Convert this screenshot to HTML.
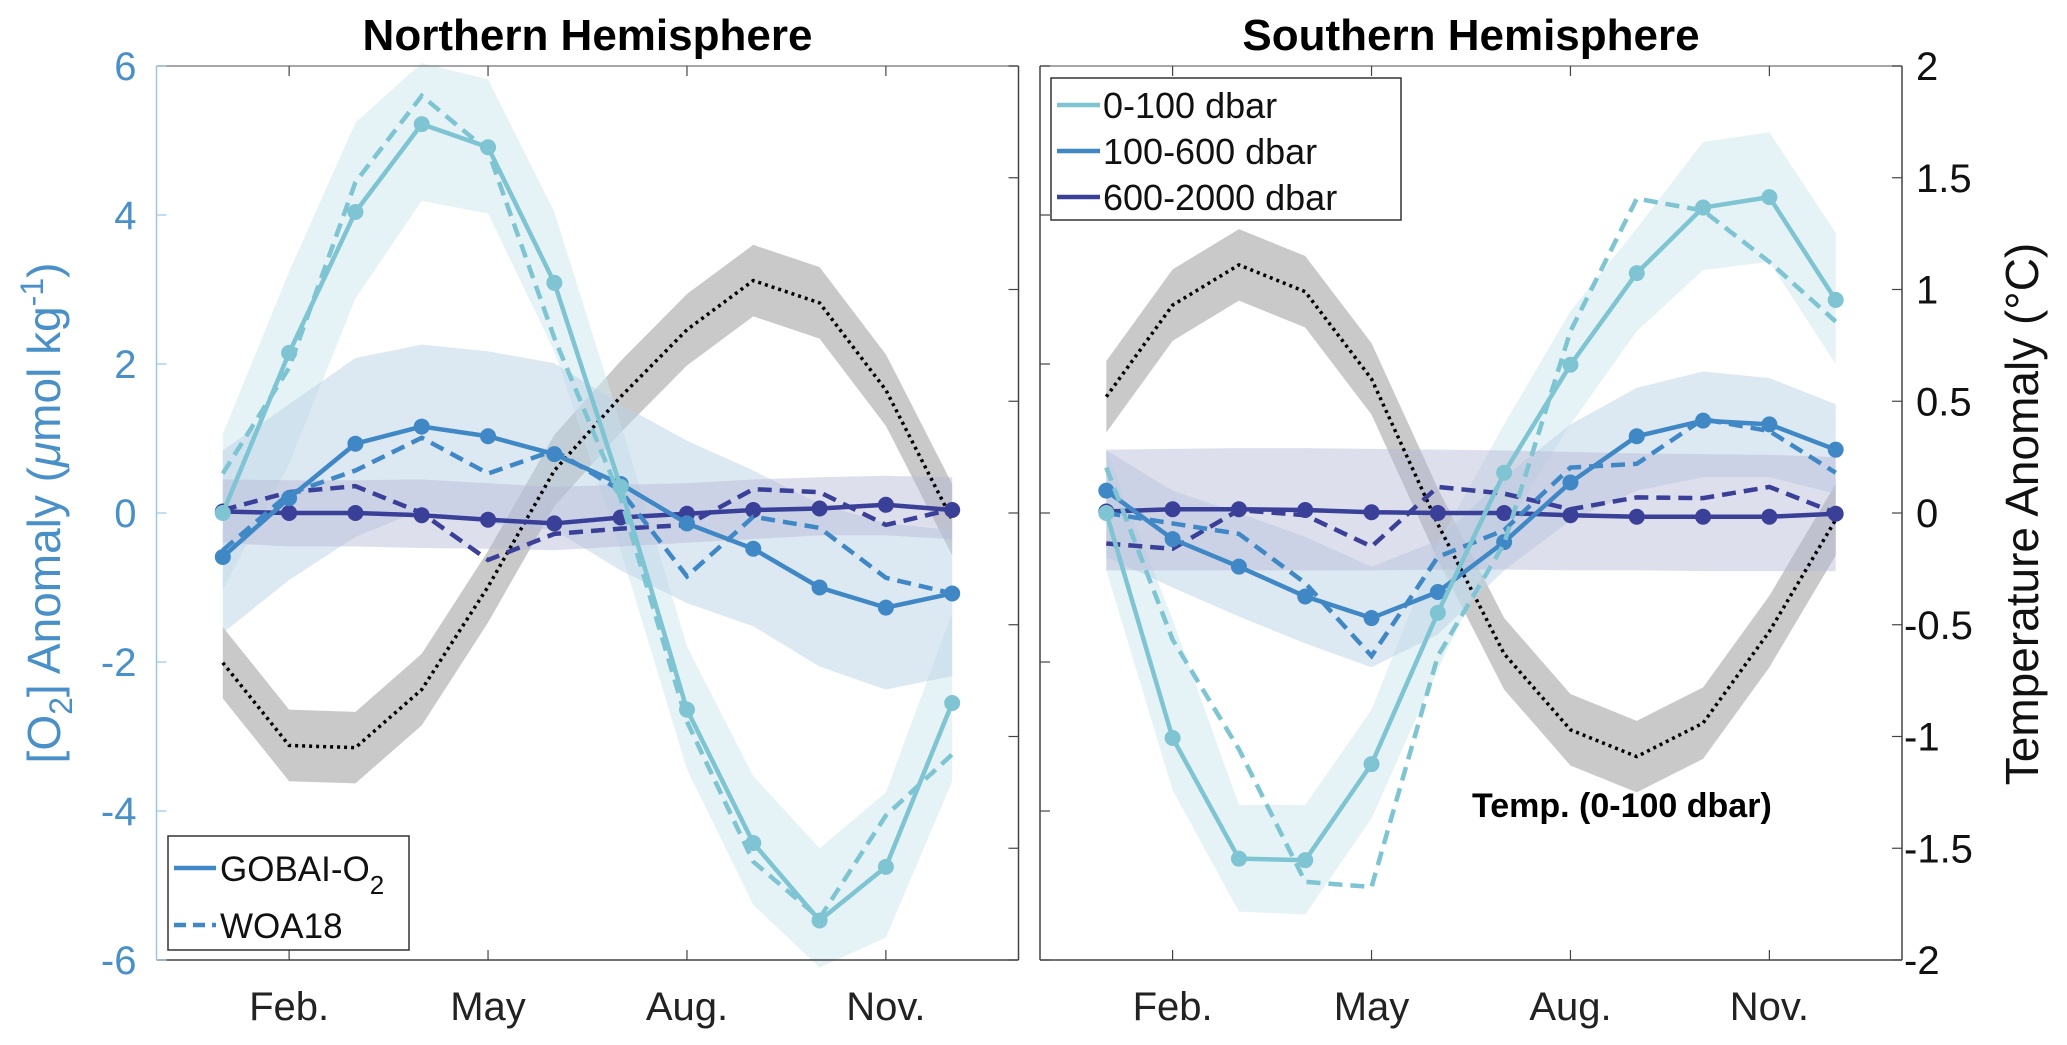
<!DOCTYPE html>
<html><head><meta charset="utf-8">
<style>
html,body{margin:0;padding:0;background:#fff;}
svg{display:block;font-family:"Liberation Sans",Arial,sans-serif;}
</style></head>
<body>
<svg id="chart" width="2067" height="1045" viewBox="0 0 2067 1045"></svg>
<script>
const months = [1,2,3,4,5,6,7,8,9,10,11,12];
const xTickMonths = [2,5,8,11];
const xTickLabels = ["Feb.","May","Aug.","Nov."];
const yTicksLeft = [-6,-4,-2,0,2,4,6];
const yTicksRight = [-2,-1.5,-1,-0.5,0,0.5,1,1.5,2];

// Northern Hemisphere O2 anomaly (umol/kg)
const nh_0_100_gobai = [0.0,2.15,4.04,5.22,4.91,3.09,0.35,-2.64,-4.43,-5.47,-4.75,-2.55];
const nh_0_100_woa   = [0.53,1.95,4.44,5.6,4.86,2.35,0.2,-2.8,-4.68,-5.44,-4.06,-3.24];
const nh_0_100_hi    = [1.06,3.24,5.24,6.04,5.82,4.04,1.2,-1.79,-3.53,-4.5,-3.75,-1.34];
const nh_0_100_lo    = [-1.03,0.66,2.88,4.19,4.02,2.17,-0.5,-3.44,-5.26,-6.1,-5.7,-3.6];
const nh_100_600_gobai = [-0.59,0.2,0.93,1.16,1.03,0.79,0.39,-0.14,-0.48,-1.0,-1.27,-1.08];
const nh_100_600_woa   = [-0.5,0.26,0.57,1.01,0.53,0.84,0.3,-0.85,-0.05,-0.2,-0.87,-1.08];
const nh_100_600_hi    = [0.84,1.46,2.08,2.26,2.17,2.01,1.46,0.97,0.57,0.12,-0.14,-0.23];
const nh_100_600_lo    = [-1.61,-0.9,-0.32,0.04,-0.14,-0.23,-0.77,-1.21,-1.52,-2.06,-2.37,-2.19];
const nh_600_2000_gobai = [0.02,0.0,0.0,-0.03,-0.09,-0.14,-0.06,-0.01,0.04,0.06,0.11,0.04];
const nh_600_2000_woa   = [0.04,0.28,0.36,0.0,-0.63,-0.28,-0.21,-0.16,0.32,0.28,-0.16,0.05];
const nh_600_2000_hi    = [0.45,0.44,0.44,0.45,0.4,0.35,0.38,0.4,0.45,0.48,0.5,0.48];
const nh_600_2000_lo    = [-0.4,-0.45,-0.45,-0.47,-0.48,-0.5,-0.45,-0.4,-0.35,-0.3,-0.3,-0.35];
const nh_temp = [-0.67,-1.04,-1.05,-0.79,-0.33,0.19,0.52,0.82,1.04,0.94,0.55,-0.03];

// Southern Hemisphere
const sh_0_100_gobai = [0.0,-3.02,-4.64,-4.66,-3.37,-1.34,0.54,1.99,3.22,4.1,4.24,2.86];
const sh_0_100_woa   = [0.61,-1.7,-3.17,-4.95,-5.02,-1.92,-0.41,2.44,4.22,4.06,3.37,2.57];
const sh_0_100_hi    = [0.84,-1.43,-3.92,-3.92,-2.64,-0.41,1.19,2.71,3.82,4.98,5.11,3.76];
const sh_0_100_lo    = [-0.77,-3.72,-5.35,-5.39,-4.1,-2.1,-0.23,1.19,2.44,3.26,3.37,2.0];
const sh_100_600_gobai = [0.3,-0.35,-0.72,-1.12,-1.41,-1.06,-0.39,0.41,1.03,1.24,1.19,0.85];
const sh_100_600_woa   = [0.0,-0.14,-0.28,-0.94,-1.92,-0.59,-0.23,0.61,0.66,1.26,1.1,0.54];
const sh_100_600_hi    = [0.84,0.3,0.0,-0.32,-0.72,-0.37,0.48,1.19,1.68,1.9,1.81,1.46];
const sh_100_600_lo    = [-0.59,-1.0,-1.39,-1.75,-2.07,-1.63,-0.77,-0.1,0.3,0.48,0.48,0.26];
const sh_600_2000_gobai = [0.02,0.05,0.05,0.04,0.01,0.0,0.0,-0.03,-0.05,-0.05,-0.05,-0.01];
const sh_600_2000_woa   = [-0.41,-0.48,0.04,-0.03,-0.45,0.35,0.26,0.05,0.21,0.2,0.35,0.0];
const sh_600_2000_hi    = [0.85,0.86,0.87,0.87,0.86,0.85,0.84,0.82,0.8,0.79,0.78,0.75];
const sh_600_2000_lo    = [-0.77,-0.77,-0.77,-0.77,-0.77,-0.76,-0.76,-0.77,-0.77,-0.78,-0.78,-0.78];
const sh_temp = [0.52,0.93,1.11,0.99,0.6,-0.05,-0.63,-0.97,-1.09,-0.94,-0.53,-0.03];
const tempErr = 0.16;

const NS="http://www.w3.org/2000/svg";
const svg=document.getElementById('chart');
function mk(tag,attrs,parent,text){const e=document.createElementNS(NS,tag);for(const k in attrs)e.setAttribute(k,attrs[k]);if(text!==undefined)e.textContent=text;(parent||svg).appendChild(e);return e;}

const C_CYAN="#7fc4d2",C_BLUE="#3f88c5",C_DARK="#3a3f98";
const TOP=66,BOT=960;
function yO2(v){return BOT-(v+6)/12*(BOT-TOP);}
function yT(v){return BOT-(v+2)/4*(BOT-TOP);}

function panel(name,xL,xR,d,opt){
  const g=mk('g',{},svg);
  
  
  const xs=m=>xL+m/13*(xR-xL);
  const ptsPoly=(hi,lo,fy)=>months.map((m,i)=>xs(m)+','+fy(hi[i])).concat(months.slice().reverse().map((m,j)=>{const i=11-j;return xs(m)+','+fy(lo[i]);})).join(' ');
  let s=mk('polygon',{points:ptsPoly(d.t.map(v=>v+tempErr),d.t.map(v=>v-tempErr),yT),fill:"#c9c9c9"},g);
  
  s=mk('polygon',{points:ptsPoly(d.a_hi,d.a_lo,yO2),fill:"#cfe9ee",'fill-opacity':0.55},g);
  
  s=mk('polygon',{points:ptsPoly(d.b_hi,d.b_lo,yO2),fill:"#b9d2e6",'fill-opacity':0.5},g);
  
  s=mk('polygon',{points:ptsPoly(d.c_hi,d.c_lo,yO2),fill:"#b6b8d8",'fill-opacity':0.45},g);
  
  let l=mk('polyline',{points:months.map((m,i)=>xs(m)+','+yT(d.t[i])).join(' '),fill:'none',stroke:'#000','stroke-width':3.5,'stroke-dasharray':'3 4'},g);
  
  const series=[[d.c,d.cw,C_DARK,'600-2000'],[d.b,d.bw,C_BLUE,'100-600'],[d.a,d.aw,C_CYAN,'0-100']];
  series.forEach(([sol,woa,col,lab])=>{
    let w=mk('polyline',{points:months.map((m,i)=>xs(m)+','+yO2(woa[i])).join(' '),fill:'none',stroke:col,'stroke-width':4.5,'stroke-dasharray':'14 8'},g);
    
    let p=mk('polyline',{points:months.map((m,i)=>xs(m)+','+yO2(sol[i])).join(' '),fill:'none',stroke:col,'stroke-width':4.5},g);
    
    months.forEach((m,i)=>{const c=mk('circle',{cx:xs(m),cy:yO2(sol[i]),r:8,fill:col},g);
      });
  });
  mk('line',{x1:xL,y1:TOP,x2:xR,y2:TOP,stroke:'#888','stroke-width':1.5},g);
  mk('line',{x1:xL,y1:BOT,x2:xR,y2:BOT,stroke:'#444','stroke-width':1.5},g);
  mk('line',{x1:xL,y1:TOP,x2:xL,y2:BOT,stroke:opt.left?'#9cc6e6':'#444','stroke-width':1.5},g);
  mk('line',{x1:xR,y1:TOP,x2:xR,y2:BOT,stroke:'#444','stroke-width':1.5},g);
  xTickMonths.forEach((m,i)=>{
    mk('line',{x1:xs(m),y1:BOT,x2:xs(m),y2:BOT-10,stroke:'#444','stroke-width':1.2},g);
    mk('line',{x1:xs(m),y1:TOP,x2:xs(m),y2:TOP+10,stroke:'#444','stroke-width':1.2},g);
    let t=mk('text',{x:xs(m),y:1020,'text-anchor':'middle','font-size':40,fill:'#222'},g,xTickLabels[i]);
    
  });
  yTicksLeft.forEach(v=>{
    mk('line',{x1:xL,y1:yO2(v),x2:xL+10,y2:yO2(v),stroke:opt.left?'#9cc6e6':'#444','stroke-width':1.2},g);
    if(opt.left){let t=mk('text',{x:xL-20,y:yO2(v)+14,'text-anchor':'end','font-size':40,fill:'#4a90c8'},g,v);
      }
  });
  yTicksRight.forEach(v=>{
    mk('line',{x1:xR,y1:yT(v),x2:xR-10,y2:yT(v),stroke:'#444','stroke-width':1.2},g);
    if(!opt.left){let t=mk('text',{x:xR+(v<0?2:14),y:yT(v)+14,'font-size':40,fill:'#111'},g,(v<0?'-':'')+Math.abs(v));
      }
  });
  let tt=mk('text',{x:(xL+xR)/2,y:50,'text-anchor':'middle','font-size':44,'font-weight':'bold',fill:'#000'},g,opt.title);
  
}
panel('northern-hemisphere',156.5,1018.5,{a:nh_0_100_gobai,aw:nh_0_100_woa,a_hi:nh_0_100_hi,a_lo:nh_0_100_lo,b:nh_100_600_gobai,bw:nh_100_600_woa,b_hi:nh_100_600_hi,b_lo:nh_100_600_lo,c:nh_600_2000_gobai,cw:nh_600_2000_woa,c_hi:nh_600_2000_hi,c_lo:nh_600_2000_lo,t:nh_temp},{left:true,title:'Northern Hemisphere'});
panel('southern-hemisphere',1040,1902,{a:sh_0_100_gobai,aw:sh_0_100_woa,a_hi:sh_0_100_hi,a_lo:sh_0_100_lo,b:sh_100_600_gobai,bw:sh_100_600_woa,b_hi:sh_100_600_hi,b_lo:sh_100_600_lo,c:sh_600_2000_gobai,cw:sh_600_2000_woa,c_hi:sh_600_2000_hi,c_lo:sh_600_2000_lo,t:sh_temp},{left:false,title:'Southern Hemisphere'});
</script>
<svg style="position:absolute;left:0;top:0" width="2067" height="1045">
  <text x="60" y="513" transform="rotate(-90 60 513)" text-anchor="middle" font-size="46" fill="#4a90c8" font-family="Liberation Sans, sans-serif">[O<tspan font-size="32" dy="12">2</tspan><tspan dy="-12">] Anomaly (</tspan><tspan font-style="italic">μ</tspan>mol kg<tspan font-size="32" dy="-17">-1</tspan><tspan dy="17">)</tspan></text>
  <text x="2038" y="514" transform="rotate(-90 2038 514)" text-anchor="middle" font-size="46" fill="#111" font-family="Liberation Sans, sans-serif">Temperature Anomaly (°C)</text>
  <g>
    <rect x="168" y="836" width="241" height="114" fill="#fff" stroke="#333" stroke-width="1.5"/>
    <line x1="174" y1="868" x2="216" y2="868" stroke="#3f88c5" stroke-width="4.5"/>
    <text x="220" y="881" font-size="35" fill="#111" font-family="Liberation Sans, sans-serif">GOBAI-O<tspan font-size="26" dy="13">2</tspan></text>
    <line x1="174" y1="925" x2="216" y2="925" stroke="#3f88c5" stroke-width="4.5" stroke-dasharray="12 7"/>
    <text x="220" y="938" font-size="35" fill="#111" font-family="Liberation Sans, sans-serif">WOA18</text>
  </g>
  <g>
    <rect x="1051" y="78" width="350" height="142" fill="#fff" stroke="#333" stroke-width="1.5"/>
    <line x1="1057" y1="105" x2="1100" y2="105" stroke="#7fc4d2" stroke-width="4.5"/>
    <text x="1103" y="118" font-size="36" fill="#111" font-family="Liberation Sans, sans-serif">0-100 dbar</text>
    <line x1="1057" y1="151" x2="1100" y2="151" stroke="#3f88c5" stroke-width="4.5"/>
    <text x="1103" y="164" font-size="36" fill="#111" font-family="Liberation Sans, sans-serif">100-600 dbar</text>
    <line x1="1057" y1="197" x2="1100" y2="197" stroke="#3a3f98" stroke-width="4.5"/>
    <text x="1103" y="210" font-size="36" fill="#111" font-family="Liberation Sans, sans-serif">600-2000 dbar</text>
  </g>
  <text x="1472" y="817" font-size="34" font-weight="bold" fill="#000" font-family="Liberation Sans, sans-serif">Temp. (0-100 dbar)</text>
</svg>
</body></html>
